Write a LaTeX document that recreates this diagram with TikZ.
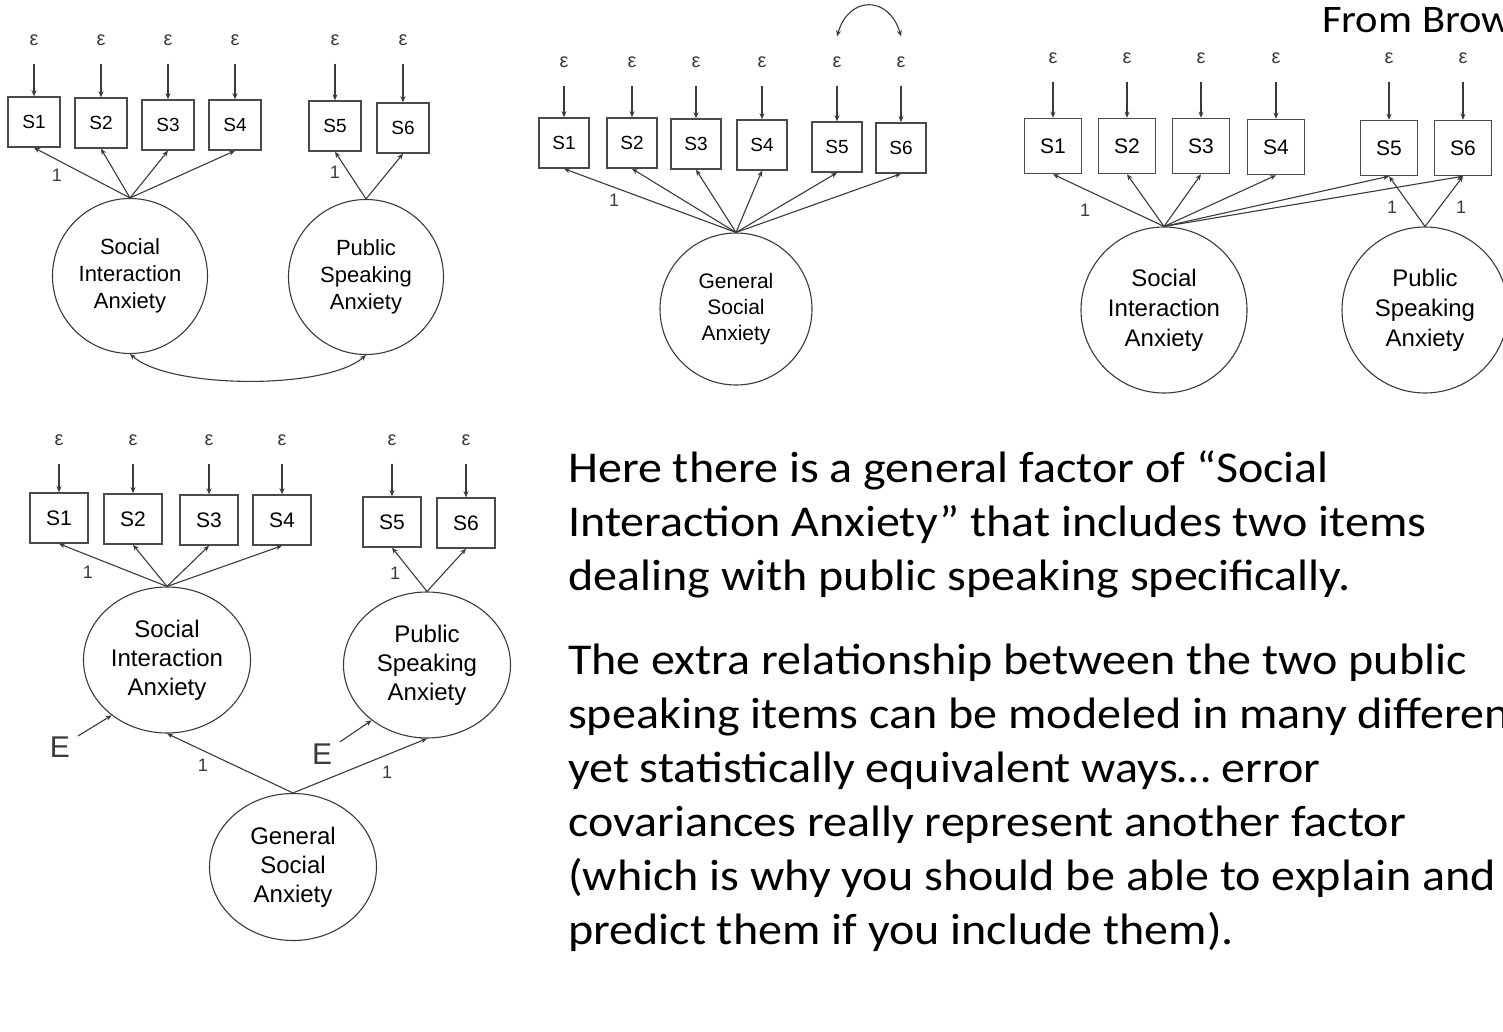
\documentclass[tikz,border=0pt]{standalone}
\usepackage{fontspec}
\setmainfont{Carlito}
\newfontfamily\notefont[FakeStretch=1.092]{Carlito}
\newfontfamily\diagfont{Liberation Sans}
\usetikzlibrary{arrows.meta,shapes.geometric}
\definecolor{linegray}{HTML}{3A3A3A}
\definecolor{boxgray}{HTML}{4A4A4A}
\tikzset{
    item-box/.style = {draw=boxgray, fill=white, line width=1.5pt, rectangle, minimum width=52pt, minimum height=50pt, inner sep=0pt, font=\diagfont\fontsize{19}{22}\selectfont},
    factor-circle/.style = {draw=linegray, line width=1.1pt, circle, inner sep=0pt, align=center, font=\diagfont\fontsize{22}{27}\selectfont},
    factor-ellipse/.style = {draw=linegray, line width=1.1pt, ellipse, inner sep=0pt, minimum width=167pt, minimum height=146pt, align=center, font=\diagfont\fontsize{24}{29}\selectfont},
    err-label/.style = {inner sep=0pt, text=linegray, font=\diagfont\fontsize{20}{20}\selectfont},
    err-arrow/.style = {draw=linegray, line width=1.1pt, -{Stealth[length=6pt,width=5pt]}, shorten <=18pt},
    load-arrow/.style = {draw=linegray, line width=1.1pt, -{Stealth[length=6pt,width=5pt]}},
    cov-arrow/.style = {draw=linegray, line width=1.1pt, {Stealth[length=6pt,width=5pt]}-{Stealth[length=6pt,width=5pt]}},
    one-label/.style = {inner sep=0pt, text=linegray, font=\diagfont\fontsize{18}{18}\selectfont},
}

\begin{document}
\begin{tikzpicture}[x=1pt, y=-1pt]
\useasboundingbox (0,0) rectangle (1503,1032);

% top left: two correlated factors
\foreach \i/\x/\y in {1/34/122,2/101/123,3/168/125,4/235/125,5/335/126,6/403/128}{
    \node[item-box] (a-s\i) at (\x,\y) {S\i};
    \node[err-label] (a-e\i) at (\x,40) {ε};
    \draw[err-arrow] (a-e\i) -- (a-s\i);
}
\node[factor-circle, minimum size=155pt] (a-sia) at (130,276) {Social\\Interaction\\Anxiety};
\node[factor-circle, minimum size=155pt] (a-psa) at (366,277) {Public\\Speaking\\Anxiety};
\foreach \i in {1,...,4} \draw[load-arrow] (a-sia.north) -- (a-s\i.south);
\foreach \i in {5,6} \draw[load-arrow] (a-psa.north) -- (a-s\i.south);
\node[one-label] (a-one1) at (57,175) {1};
\node[one-label] (a-one2) at (335,172) {1};
\draw[cov-arrow] (a-sia.south) .. controls +(40,35) and +(-40,35) .. (a-psa.south);

% top middle: one factor, correlated errors
\foreach \i/\x/\y in {1/564/143,2/632/143,3/696/144,4/762/145,5/837/147,6/901/148}{
    \node[item-box, minimum width=50pt] (b-s\i) at (\x,\y) {S\i};
    \node[err-label] (b-e\i) at (\x,62) {ε};
    \draw[err-arrow] (b-e\i) -- (b-s\i);
}
\node[factor-circle, minimum size=152pt, font=\diagfont\fontsize{21}{26}\selectfont] (b-gsa) at (736,309) {General\\Social\\Anxiety};
\foreach \i in {1,...,6} \draw[load-arrow] (b-gsa.north) -- (b-s\i.south);
\node[one-label] (b-one) at (614,200) {1};
\draw[cov-arrow] ([yshift=20pt]b-e5.north) .. controls +(12,-41) and +(-12,-41) .. ([yshift=20pt]b-e6.north);

% top right: cross loadings
\node[anchor=base west, inner sep=0pt, font=\notefont\fontsize{39}{47}\selectfont] (source) at (1322,33) {From Brown};
\foreach \i/\x/\y in {1/1053/146,2/1127/146,3/1201/146,4/1276/147,5/1389/148,6/1463/148}{
    \node[item-box, minimum width=57pt, minimum height=55pt, font=\diagfont\fontsize{21}{24}\selectfont] (c-s\i) at (\x,\y) {S\i};
    \node[err-label] (c-e\i) at (\x,58) {ε};
    \draw[err-arrow] (c-e\i) -- (c-s\i);
}
\node[factor-circle, minimum size=166pt, font=\diagfont\fontsize{24}{30}\selectfont] (c-sia) at (1164,310) {Social\\Interaction\\Anxiety};
\node[factor-circle, minimum size=166pt, font=\diagfont\fontsize{24}{30}\selectfont] (c-psa) at (1425,310) {Public\\Speaking\\Anxiety};
\foreach \i in {1,...,6} \draw[load-arrow] (c-sia.north) -- (c-s\i.south);
\foreach \i in {5,6} \draw[load-arrow] (c-psa.north) -- (c-s\i.south);
\node[one-label] (c-one1) at (1085,210) {1};
\node[one-label] (c-one2) at (1392,207) {1};
\node[one-label] (c-one3) at (1461,207) {1};

% bottom left: second order factor
\foreach \i/\x/\y in {1/59/518,2/133/519,3/209/520,4/282/520,5/392/522,6/466/523}{
    \node[item-box, minimum width=58pt, font=\diagfont\fontsize{21}{24}\selectfont] (d-s\i) at (\x,\y) {S\i};
    \node[err-label] (d-e\i) at (\x,440) {ε};
    \draw[err-arrow] (d-e\i) -- (d-s\i);
}
\node[factor-ellipse] (d-sia) at (167,660) {Social\\Interaction\\Anxiety};
\node[factor-ellipse] (d-psa) at (427,665) {Public\\Speaking\\Anxiety};
\node[factor-ellipse, minimum height=147pt] (d-gsa) at (293,867) {General\\Social\\Anxiety};
\foreach \i in {1,...,4} \draw[load-arrow] (d-sia.north) -- (d-s\i.south);
\foreach \i in {5,6} \draw[load-arrow] (d-psa.north) -- (d-s\i.south);
\node[one-label] (d-one1) at (88,572) {1};
\node[one-label] (d-one2) at (395,573) {1};
\node[inner sep=0pt, outer sep=8pt, text=linegray, font=\diagfont\fontsize{30}{30}\selectfont] (d-esia) at (60,747) {E};
\node[inner sep=0pt, outer sep=8pt, text=linegray, font=\diagfont\fontsize{30}{30}\selectfont] (d-epsa) at (322,754) {E};
\draw[load-arrow] (d-esia) -- (d-sia.225);
\draw[load-arrow] (d-epsa) -- (d-psa.225);
\draw[load-arrow] (d-gsa.north) -- (d-sia.south);
\draw[load-arrow] (d-gsa.north) -- (d-psa.south);
\node[one-label] (d-one3) at (203,765) {1};
\node[one-label] (d-one4) at (387,772) {1};

% notes
\node[anchor=north west, inner sep=0pt, align=left, font=\notefont\fontsize{44}{54}\selectfont] (notes) at (568,451) {%
Here there is a general factor of “Social\\
Interaction Anxiety” that includes two items\\
dealing with public speaking specifically.\\[30pt]
The extra relationship between the two public\\
speaking items can be modeled in many different\\
yet statistically equivalent ways… error\\
covariances really represent another factor\\
(which is why you should be able to explain and\\
predict them if you include them).};
\end{tikzpicture}
\end{document}
